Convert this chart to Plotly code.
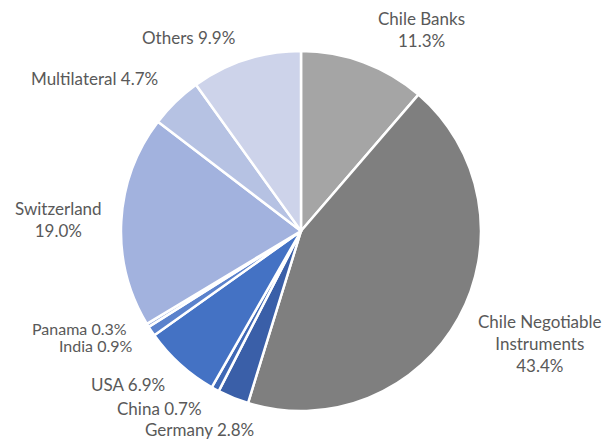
import plotly.graph_objects as go

labels = ["Chile Banks", "Chile Negotiable Instruments", "Germany", "China", "USA",
          "India", "Panama", "Switzerland", "Multilateral", "Others"]
values = [11.3, 43.4, 2.8, 0.7, 6.9, 0.9, 0.3, 19.0, 4.7, 9.9]
colors = ["#A5A5A5", "#7F7F7F", "#3A5FA8", "#3F68B5", "#4472C4",
          "#5B82CC", "#8FA5D8", "#A2B2DE", "#B6C2E3", "#CDD3EA"]
label_text = ["Chile Banks<br>11.3%", "Chile Negotiable<br>Instruments<br>43.4%",
              "Germany 2.8%", "China 0.7%", "USA 6.9%", "India 0.9%", "Panama 0.3%",
              "Switzerland<br>19.0%", "Multilateral 4.7%", "Others 9.9%"]
# label centre positions in pixels (x, y from top) and font sizes
label_pos = [(421, 29), (540, 343), (199, 429), (160, 408), (128, 384),
             (95, 345), (80, 328), (58, 219), (94, 78), (188, 37)]
label_size = [17, 17, 17, 17, 17, 16, 16, 17, 17, 17]

W, H = 606, 439
fig = go.Figure(go.Pie(
    labels=labels, values=values, sort=False, direction="clockwise", rotation=0,
    marker=dict(colors=colors, line=dict(color="white", width=2.5)),
    textinfo="none", hoverinfo="label+percent", showlegend=False,
    domain=dict(x=[121 / W, 481 / W], y=[(H - 411) / H, (H - 51) / H]),
))
for t, (px, py), s in zip(label_text, label_pos, label_size):
    fig.add_annotation(x=px / W, y=1 - py / H, xref="paper", yref="paper",
                       text=t, showarrow=False, xanchor="center", yanchor="middle",
                       font=dict(family="Lato", size=s, color="#595959"))
fig.update_layout(width=W, height=H, margin=dict(l=0, r=0, t=0, b=0),
                  paper_bgcolor="white", plot_bgcolor="white")
fig.write_html("out.html")
